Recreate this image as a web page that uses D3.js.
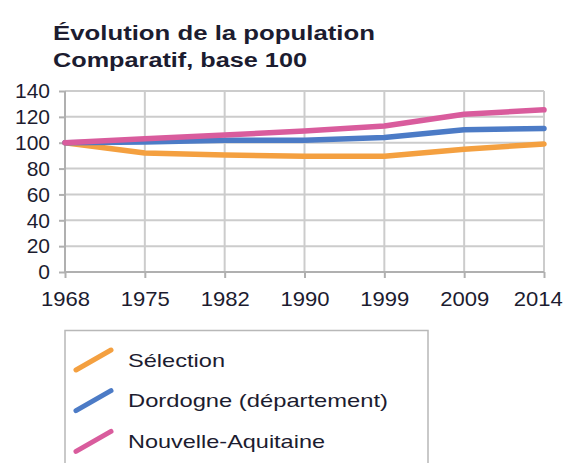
<!DOCTYPE html>
<html>
<head>
	<meta charset="utf-8">
	<title>Évolution de la population</title>
	<script type="text/javascript" src="https://d3js.org/d3.v7.min.js"></script>
	<style type="text/css">
		body { margin: 0; background: #fff; }
		text { font-family: "Liberation Sans", Arial, sans-serif; fill: #1c1c30; }
		.grid line { stroke: #cccccc; stroke-width: 2; }
		.axis path, .axis line { stroke: #b0b0b0; stroke-width: 2; }
		.axis text { font-size: 21px; }
	</style>
</head>
<body>
<script type="text/javascript">
	var width = 568, height = 463;
	var years = ["1968", "1975", "1982", "1990", "1999", "2009", "2014"];
	var yTicks = [0, 20, 40, 60, 80, 100, 120, 140];
	var seriesNames = ["Sélection", "Dordogne (département)", "Nouvelle-Aquitaine"];
	var selection = [100, 92, 90.5, 89.5, 89.5, 95, 99];
	var dordogne = [100, 100.5, 102, 102, 104, 110, 111];
	var nouvelleAquitaine = [100, 103, 106, 109, 113, 122, 125.5];
	var colors = ["#f4a040", "#4c7bc6", "#d95c9d"];

	var padding = {left: 65, right: 24, top: 91, bottom: 191};
	var stretch = "scale(1.05,1)"; // le texte de l'image est un peu élargi

	var svg = d3.select("body").append("svg")
		.attr("width", width)
		.attr("height", height);

	//titres
	svg.append("text").attr("x", 53).attr("y", 40)
		.style("font-size", "21px").style("font-weight", "bold")
		.attr("textLength", 322).attr("lengthAdjust", "spacingAndGlyphs")
		.text("Évolution de la population");
	svg.append("text").attr("x", 53).attr("y", 67)
		.style("font-size", "20px").style("font-weight", "bold")
		.attr("textLength", 254).attr("lengthAdjust", "spacingAndGlyphs")
		.text("Comparatif, base 100");

	//échelles
	var xscale = d3.scalePoint()
		.domain(years)
		.range([padding.left, width - padding.right]);
	var yscale = d3.scaleLinear()
		.domain([0, 140])
		.range([height - padding.bottom, padding.top]);

	//grille
	var grid = svg.append("g").attr("class", "grid");
	grid.selectAll(".h").data(yTicks).enter().append("line")
		.attr("x1", padding.left).attr("x2", width - padding.right)
		.attr("y1", function(d){ return yscale(d); })
		.attr("y2", function(d){ return yscale(d); });
	grid.selectAll(".v").data(years.slice(1)).enter().append("line")
		.attr("x1", function(d){ return xscale(d); })
		.attr("x2", function(d){ return xscale(d); })
		.attr("y1", yscale(140)).attr("y2", yscale(0));

	//axes
	var xAxis = d3.axisBottom(xscale).tickSize(6).tickPadding(3);
	var yAxis = d3.axisLeft(yscale).tickValues(yTicks).tickSize(6).tickPadding(9);

	svg.append("g").attr("class", "axis")
		.attr("transform", "translate(0," + yscale(0) + ")")
		.call(xAxis)
		.call(function(g){ g.select(".domain").attr("d", "M" + padding.left + ",0H" + (width - padding.right)); })
		.selectAll("text")
		.attr("dy", "1.17em")
		.attr("dx", function(d, i){ return i === years.length - 1 ? -6 : 0; })
		.attr("transform", stretch);
	svg.append("g").attr("class", "axis")
		.attr("transform", "translate(" + padding.left + ",0)")
		.call(yAxis)
		.call(function(g){ g.select(".domain").attr("d", "M0," + yscale(140) + "V" + yscale(0)); });

	//courbes
	var data = [selection, dordogne, nouvelleAquitaine];
	var line = d3.line()
		.x(function(d, i){ return xscale(years[i]); })
		.y(function(d){ return yscale(d); });

	svg.selectAll(".serie").data(data).enter().append("path")
		.attr("class", "serie")
		.attr("d", line)
		.attr("fill", "none")
		.attr("stroke", function(d, i){ return colors[i]; })
		.attr("stroke-width", 5.5)
		.attr("stroke-linejoin", "round")
		.attr("stroke-linecap", "round");

	//légende
	var legend = svg.append("g");
	legend.append("path")
		.attr("d", "M65,470V330.5H428V470")
		.attr("fill", "none")
		.attr("stroke", "#b8b8b8")
		.attr("stroke-width", 1.5);
	var legendWidths = [97, 260, 197];
	var items = legend.selectAll(".item").data(seriesNames).enter().append("g")
		.attr("transform", function(d, i){ return "translate(0," + (360 + i * 40.7) + ")"; });
	items.append("line")
		.attr("x1", 76).attr("y1", 10).attr("x2", 111).attr("y2", -10)
		.attr("stroke", function(d, i){ return colors[i]; })
		.attr("stroke-width", 5)
		.attr("stroke-linecap", "round");
	items.append("text")
		.attr("x", 128).attr("y", 6.5)
		.style("font-size", "19px")
		.attr("textLength", function(d, i){ return legendWidths[i]; })
		.attr("lengthAdjust", "spacingAndGlyphs")
		.text(function(d){ return d; });
</script>
</body>
</html>
